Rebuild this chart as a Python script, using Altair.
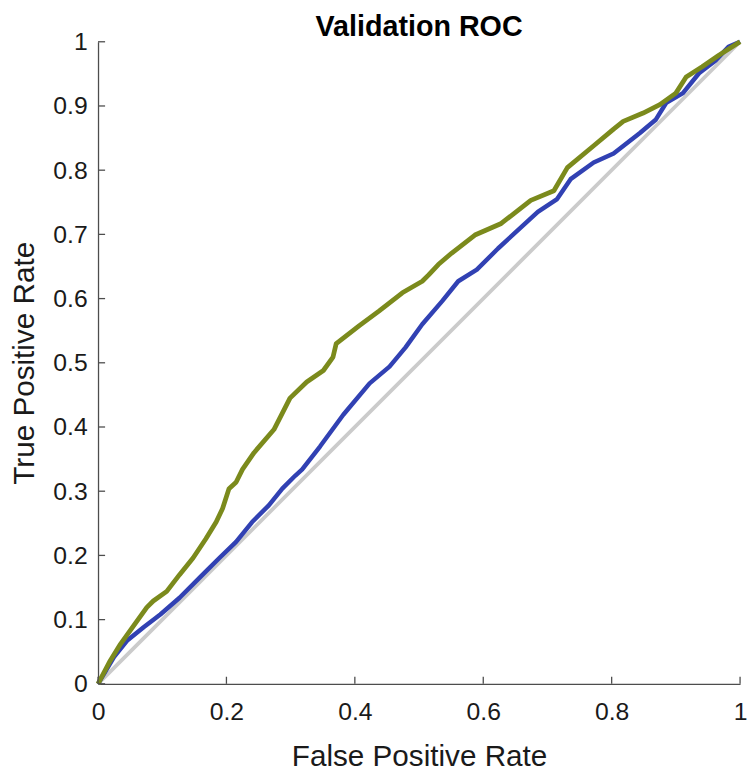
import altair as alt
import pandas as pd

# ROC curve of the first model (blue)
blue_fpr = [0.0, 0.025, 0.045, 0.071, 0.097, 0.127, 0.163, 0.189, 0.215, 0.240,
            0.266, 0.287, 0.307, 0.318, 0.346, 0.382, 0.423, 0.454, 0.479, 0.505,
            0.536, 0.561, 0.590, 0.623, 0.685, 0.715, 0.736, 0.772, 0.803, 0.844,
            0.869, 0.885, 0.911, 0.936, 0.962, 0.982, 1.0]
blue_tpr = [0.0, 0.042, 0.067, 0.088, 0.108, 0.134, 0.170, 0.196, 0.221, 0.252,
            0.278, 0.304, 0.324, 0.334, 0.370, 0.419, 0.468, 0.494, 0.524, 0.560,
            0.596, 0.627, 0.645, 0.678, 0.735, 0.755, 0.786, 0.812, 0.826, 0.858,
            0.879, 0.905, 0.920, 0.951, 0.971, 0.992, 1.0]

# ROC curve of the second model (olive)
olive_fpr = [0.0, 0.019, 0.035, 0.050, 0.076, 0.086, 0.107, 0.127, 0.148, 0.168,
             0.184, 0.194, 0.204, 0.215, 0.225, 0.243, 0.274, 0.299, 0.325, 0.351,
             0.366, 0.371, 0.407, 0.438, 0.474, 0.505, 0.515, 0.530, 0.551, 0.587,
             0.628, 0.674, 0.710, 0.731, 0.772, 0.803, 0.818, 0.849, 0.875, 0.900,
             0.916, 0.941, 0.967, 1.0]
olive_tpr = [0.0, 0.036, 0.062, 0.083, 0.119, 0.129, 0.144, 0.170, 0.196, 0.226,
             0.252, 0.273, 0.304, 0.314, 0.334, 0.360, 0.396, 0.445, 0.470, 0.488,
             0.509, 0.530, 0.558, 0.581, 0.609, 0.627, 0.637, 0.653, 0.671, 0.699,
             0.717, 0.753, 0.768, 0.804, 0.838, 0.864, 0.876, 0.889, 0.902, 0.920,
             0.945, 0.961, 0.979, 1.0]

# chance diagonal
diag_fpr = [0.0, 1.0]
diag_tpr = [0.0, 1.0]

x_ticks = [0, 0.2, 0.4, 0.6, 0.8, 1]
y_ticks = [0, 0.1, 0.2, 0.3, 0.4, 0.5, 0.6, 0.7, 0.8, 0.9, 1]
tick_len = 0.011

FONT = "Liberation Sans"
AXIS_COLOR = "#4d4d4d"

df_blue = pd.DataFrame({"fpr": blue_fpr, "tpr": blue_tpr, "i": range(len(blue_fpr))})
df_olive = pd.DataFrame({"fpr": olive_fpr, "tpr": olive_tpr, "i": range(len(olive_fpr))})
df_diag = pd.DataFrame({"fpr": diag_fpr, "tpr": diag_tpr, "i": range(len(diag_fpr))})
df_xt = pd.DataFrame({"v": x_ticks, "a": [0.0] * len(x_ticks), "b": [tick_len] * len(x_ticks)})
df_yt = pd.DataFrame({"v": y_ticks, "a": [0.0] * len(y_ticks), "b": [tick_len] * len(y_ticks)})

xs = alt.Scale(domain=[0, 1], nice=False, zero=False)
ys = alt.Scale(domain=[0, 1], nice=False, zero=False)

x_axis = alt.Axis(
    values=x_ticks, format="~g", title="False Positive Rate", grid=False, ticks=False,
    domainColor=AXIS_COLOR, domainWidth=1.3, labelFont=FONT, labelFontSize=25,
    labelColor="#1a1a1a", labelPadding=16, labelFlush=False, labelOverlap=False,
    titleFont=FONT, titleFontSize=30, titleFontWeight="normal", titleColor="#1a1a1a",
    titleBaseline="alphabetic", titleX=324.5, titleY=83,
)
y_axis = alt.Axis(
    values=y_ticks, format="~g", title="True Positive Rate", grid=False, ticks=False,
    domainColor=AXIS_COLOR, domainWidth=1.3, labelFont=FONT, labelFontSize=25,
    labelColor="#1a1a1a", labelPadding=11, labelFlush=False, labelOverlap=False,
    titleFont=FONT, titleFontSize=30, titleFontWeight="normal", titleColor="#1a1a1a",
    titleBaseline="alphabetic", titleX=-65, titleY=324.5, titleAngle=-90,
)

diag = alt.Chart(df_diag).mark_line(color="#cbcbcb", strokeWidth=3.8).encode(
    x=alt.X("fpr:Q", scale=xs, axis=x_axis),
    y=alt.Y("tpr:Q", scale=ys, axis=y_axis),
    order="i:Q",
)
blue = alt.Chart(df_blue).mark_line(color="#3141b3", strokeWidth=4.5, strokeJoin="round").encode(
    x=alt.X("fpr:Q", scale=xs), y=alt.Y("tpr:Q", scale=ys), order="i:Q",
)
olive = alt.Chart(df_olive).mark_line(color="#7b8a1c", strokeWidth=4.8, strokeJoin="round").encode(
    x=alt.X("fpr:Q", scale=xs), y=alt.Y("tpr:Q", scale=ys), order="i:Q",
)
xticks = alt.Chart(df_xt).mark_rule(color=AXIS_COLOR, strokeWidth=1.3).encode(
    x=alt.X("v:Q", scale=xs), y=alt.Y("a:Q", scale=ys), y2="b:Q",
)
yticks = alt.Chart(df_yt).mark_rule(color=AXIS_COLOR, strokeWidth=1.3).encode(
    y=alt.Y("v:Q", scale=ys), x=alt.X("a:Q", scale=xs), x2="b:Q",
)

chart = alt.layer(diag, blue, olive, xticks, yticks).properties(
    width=649,
    height=649,
    title=alt.TitleParams(
        "Validation ROC", font=FONT, fontSize=29, fontWeight="bold", color="#000000",
        anchor="middle", baseline="top", offset=-12,
    ),
    autosize=alt.AutoSizeParams(type="none"),
    padding={"left": 91, "top": 30, "right": 7, "bottom": 85},
    background="white",
).configure_view(stroke=None)

chart.save("out.html", embed_options={"renderer": "svg", "actions": False})
